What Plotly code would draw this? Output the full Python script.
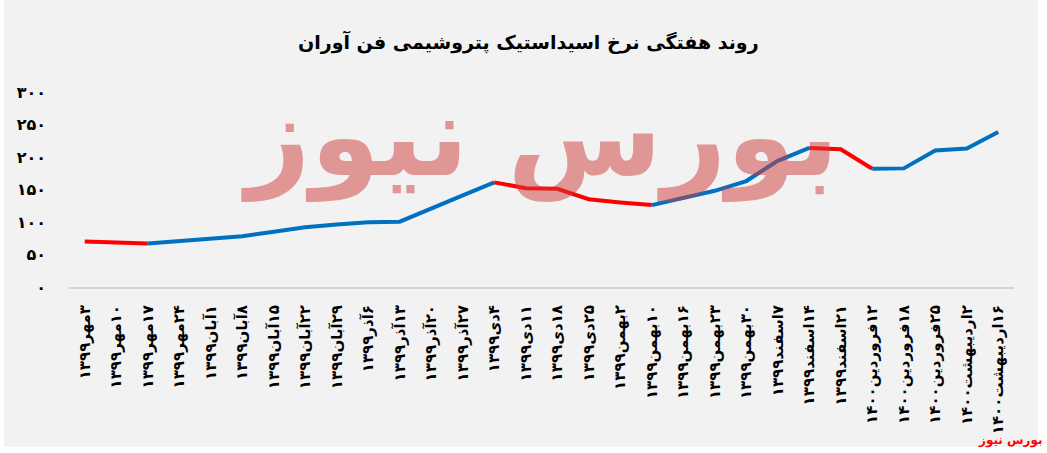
import plotly.graph_objects as go

# ---------------- data ----------------
dates = [
    "۳مهر۱۳۹۹", "۱۰مهر۱۳۹۹", "۱۷مهر۱۳۹۹", "۲۴مهر۱۳۹۹",
    "۱آبان۱۳۹۹", "۸آبان۱۳۹۹", "۱۵آبان۱۳۹۹", "۲۲آبان۱۳۹۹", "۲۹آبان۱۳۹۹",
    "۶آذر۱۳۹۹", "۱۳آذر۱۳۹۹", "۲۰آذر۱۳۹۹", "۲۷آذر۱۳۹۹",
    "۴دی۱۳۹۹", "۱۱دی۱۳۹۹", "۱۸دی۱۳۹۹", "۲۵دی۱۳۹۹",
    "۲بهمن۱۳۹۹", "۱۰بهمن۱۳۹۹", "۱۶بهمن۱۳۹۹", "۲۳بهمن۱۳۹۹", "۳۰بهمن۱۳۹۹",
    "۷اسفند۱۳۹۹", "۱۴اسفند۱۳۹۹", "۲۱اسفند۱۳۹۹",
    "۱۲فروردین۱۴۰۰", "۱۸فروردین۱۴۰۰", "۲۵فروردین۱۴۰۰",
    "۲اردیبهشت۱۴۰۰", "۱۶اردیبهشت۱۴۰۰",
]
prices = [
    70, 68.5, 67, 70.5, 74.5, 78, 85, 92, 96, 99.5,
    100.5, 120, 141, 161, 152, 151, 135, 130, 126, 137,
    148, 163, 194, 214, 212, 182, 182.5, 210, 213, 238.5,
]
y_tickvals = [0, 50, 100, 150, 200, 250, 300]
y_ticktext = ["۰", "۵۰", "۱۰۰", "۱۵۰", "۲۰۰", "۲۵۰", "۳۰۰"]

title_text = "روند هفتگی نرخ اسیداستیک پتروشیمی فن آوران"
watermark_text = "بورس نیوز"
source_text = "بورس نیوز"

UP_COLOR = "#0070c0"
DOWN_COLOR = "#ff0000"
FONT = "DejaVu Sans"
RLM = "\u200f"  # right-to-left mark so Persian labels order correctly

fig = go.Figure()

# build runs of rising / falling segments
runs = []
cur_color = None
cur = []
for i in range(1, len(prices)):
    col = UP_COLOR if prices[i] >= prices[i - 1] else DOWN_COLOR
    if col != cur_color:
        if cur:
            runs.append((cur_color, cur))
        cur_color = col
        cur = [i - 1, i]
    else:
        cur.append(i)
runs.append((cur_color, cur))

for col, idx in runs:
    fig.add_trace(go.Scatter(
        x=[dates[i] for i in idx],
        y=[prices[i] for i in idx],
        mode="lines",
        line=dict(color=col, width=4),
        showlegend=False,
        hoverinfo="skip",
    ))

fig.update_layout(
    width=1047, height=453,
    margin=dict(l=69, r=33, t=92, b=166),
    paper_bgcolor="#f2f2f2",
    plot_bgcolor="#f2f2f2",
    showlegend=False,
    xaxis=dict(
        type="category",
        categoryorder="array", categoryarray=dates,
        range=[-0.5, len(dates) - 0.5],
        tickmode="array",
        tickvals=dates,
        ticktext=[RLM + d for d in dates],
        tickangle=-90,
        showgrid=False,
        showline=True, linecolor="#d4d4d4", linewidth=2,
        ticks="",
        ticklabelstandoff=10,
        tickfont=dict(family=FONT, size=15, color="#000000", weight="bold"),
        fixedrange=True,
    ),
    yaxis=dict(
        range=[0, 300],
        tickvals=y_tickvals, ticktext=y_ticktext,
        showgrid=False, zeroline=False, showline=False,
        ticks="",
        ticklabelstandoff=22,
        tickfont=dict(family=FONT, size=16, color="#000000", weight="bold"),
        fixedrange=True,
    ),
    shapes=[
        # white frame outside the grey chart area
        dict(type="rect", xref="paper", yref="paper", x0=1.0254, x1=1.2, y0=-1.0, y1=1.6,
             fillcolor="white", line=dict(width=0), layer="below"),
        dict(type="rect", xref="paper", yref="paper", x0=-0.2, x1=1.2, y0=-1.0, y1=-0.8205,
             fillcolor="white", line=dict(width=0), layer="below"),
        dict(type="rect", xref="paper", yref="paper", x0=-0.2, x1=-0.0688, y0=-1.0, y1=1.6,
             fillcolor="white", line=dict(width=0), layer="below"),
    ],
    annotations=[
        dict(text=watermark_text, xref="paper", yref="paper", x=0.498, y=1.12,
             showarrow=False, opacity=0.5,
             font=dict(family=FONT, size=112, color="rgb(210,60,60)", weight="bold")),
        dict(text=title_text, xref="paper", yref="paper", x=0.486, y=1.328,
             showarrow=False,
             font=dict(family=FONT, size=19, color="#000000", weight="bold")),
        dict(text=source_text, xref="paper", yref="paper", x=1.0328, y=-0.785,
             xanchor="right", yanchor="middle", showarrow=False,
             font=dict(family=FONT, size=12, color="#ff0000", weight="bold")),
    ],
)

fig.write_html(
    "out.html",
    config={"displayModeBar": False},
    post_script="document.body.style.margin='0';document.body.style.overflow='hidden';",
)
